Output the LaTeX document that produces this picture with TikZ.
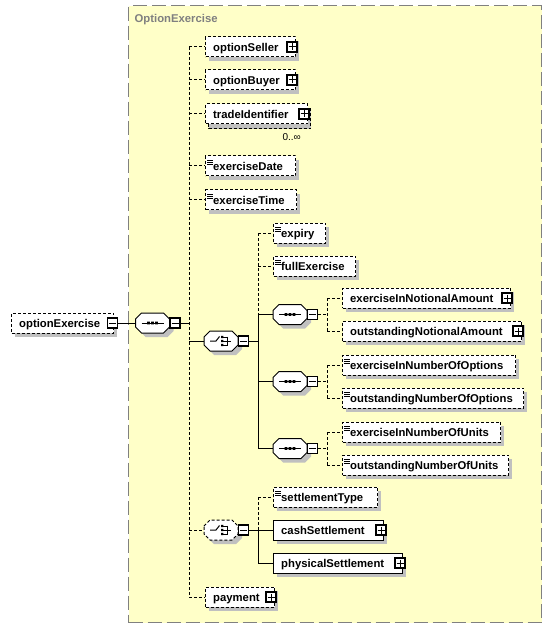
\documentclass[tikz,border=0pt]{standalone}
\usepackage{fontspec}
\setmainfont{Liberation Sans}
\definecolor{bgyel}{HTML}{FFFFC8}
\definecolor{shd}{HTML}{C0C0C0}
\definecolor{frm}{HTML}{808080}
\tikzset{
 dsh/.style={dash pattern=on 3pt off 2pt},
 conn/.style={line width=1pt},
 boxel/.style={draw, fill=white, line width=1pt, minimum height=20pt, inner sep=0pt, anchor=west},
 eltext/.style={font=\fontsize{11.3}{13}\selectfont\bfseries, inner sep=0pt, anchor=base west},
 pm/.style={draw, fill=white, line width=1.1pt, minimum size=10pt, inner sep=0pt},
 compo/.style={minimum width=34pt, minimum height=20pt, inner sep=0pt},
 grpbox/.style={draw=frm, fill=bgyel, line width=1.4pt, dash pattern=on 14pt off 5pt, inner sep=0pt},
 ttl/.style={text=frm, font=\fontsize{11.3}{13}\selectfont\bfseries, inner sep=0pt, anchor=base west},
 occ/.style={font=\fontsize{10}{11}\selectfont, inner sep=0pt, anchor=base east},
}
\newcommand\elbox[6]{%
 \fill[shd] (#2+4,#4-6) rectangle (#3+4,#4+14);
 \node[boxel,#5,minimum width=#3-#2] (#1) at (#2,#4) {};
 \node[eltext] (#1t) at (#2+8,#4+4.5) {#6};}
\newcommand\elicon[2]{%
 \draw[line width=0.8pt] (#1+2,#2-6) -- (#1+7.5,#2-6) (#1+2,#2-4) -- (#1+7.5,#2-4) (#1+2,#2-2) -- (#1+7.5,#2-2);}
\newcommand\plusbox[3]{\node[pm] (#1) at (#2,#3) {};
 \draw[line width=1pt] (#1.center) ++(-3.5,0) -- ++(7,0) (#1.center) ++(0,-3.5) -- ++(0,7);}
\newcommand\minusbox[3]{\node[pm] (#1) at (#2,#3) {};
 \draw[line width=1pt] (#1.center) ++(-3.5,0) -- ++(7,0);}
\newcommand\octo[4]{%
 \fill[shd] (#2-13,#3) -- (#2-7,#3-6) -- (#2+15,#3-6) -- (#2+21,#3) -- (#2+21,#3+8) -- (#2+15,#3+14) -- (#2-7,#3+14) -- (#2-13,#3+8) -- cycle;
 \draw[fill=white,line width=1pt,#4] (#2-17,#3-4) -- (#2-11,#3-10) -- (#2+11,#3-10) -- (#2+17,#3-4) -- (#2+17,#3+4) -- (#2+11,#3+10) -- (#2-11,#3+10) -- (#2-17,#3+4) -- cycle;
 \node[compo] (#1) at (#2,#3) {};
 \minusbox{#1m}{#2+22.5}{#3}}
\newcommand\seqicon[2]{%
 \draw[line width=1pt] (#1-11,#2) -- (#1+11,#2);
 \fill (#1-5.3,#2-1.3) rectangle ++(2.6,2.6) (#1-1.3,#2-1.3) rectangle ++(2.6,2.6) (#1+2.7,#2-1.3) rectangle ++(2.6,2.6);}
\newcommand\choiceicon[2]{%
 \draw[line width=1pt] (#1-11,#2) -- (#1-5,#2) -- (#1-1.5,#2-4.5);
 \fill (#1,#2-5.2) rectangle ++(2.4,2.4) (#1,#2-1.2) rectangle ++(2.4,2.4) (#1,#2+2.8) rectangle ++(2.4,2.4);
 \draw[line width=0.9pt] (#1+2.4,#2-4) -- (#1+6,#2-4) (#1+2.4,#2) -- (#1+10,#2) (#1+2.4,#2+4) -- (#1+6,#2+4) (#1+6,#2-4.5) -- (#1+6,#2+4.5);}
\begin{document}
\begin{tikzpicture}[x=1pt,y=-1pt]
\useasboundingbox[fill=white] (0,0) rectangle (551,628);
\node[grpbox, anchor=north west, minimum width=413pt, minimum height=617pt] (grp) at (128,5) {};
\node[ttl] (title) at (134.5,23) {OptionExercise};

% root element
\elbox{oe}{11}{113}{323}{dsh}{optionExercise}
\minusbox{oem}{112.5}{323}
\octo{sq0}{152.5}{323}{}
\seqicon{152.5}{323}

% children of main sequence
\elbox{seller}{205}{295}{47}{dsh}{optionSeller}
\plusbox{sellerp}{292}{47}
\elbox{buyer}{205}{295}{80}{dsh}{optionBuyer}
\plusbox{buyerp}{292}{80}
\draw[fill=shd,line width=1pt,dsh] (208.5,109) rectangle (310.5,129);
\node[boxel,dsh,minimum width=102] (trade) at (205,114) {};
\node[eltext] (tradet) at (213,118.5) {tradeIdentifier};
\plusbox{tradep}{304}{114}
\node[occ] (tradeocc) at (301,141) {0..∞};
\elbox{exdate}{205}{295}{166}{dsh}{exerciseDate}
\elicon{205}{166}
\elbox{extime}{205}{296}{200}{dsh}{exerciseTime}
\elicon{205}{200}
\octo{ch1}{221}{341}{}
\choiceicon{221}{341}
\octo{ch2}{221}{530}{dsh}
\choiceicon{221}{530}
\elbox{payment}{205}{274}{597}{dsh}{payment}
\plusbox{paymentp}{271}{597}

% children of first choice
\elbox{expiry}{273}{325}{233}{dsh}{expiry}
\elicon{273}{233}
\elbox{fullex}{273}{355}{266}{dsh}{fullExercise}
\elicon{273}{266}
\octo{sq1}{290}{314.5}{}
\seqicon{290}{314.5}
\octo{sq2}{290}{381.5}{}
\seqicon{290}{381.5}
\octo{sq3}{290}{448.5}{}
\seqicon{290}{448.5}

\elbox{eina}{342}{510}{298}{dsh}{exerciseInNotionalAmount}
\plusbox{einap}{507}{298}
\elbox{ona}{342}{521}{331}{dsh}{outstandingNotionalAmount}
\plusbox{onap}{518}{331}
\elbox{einoo}{342}{515}{365}{dsh}{exerciseInNumberOfOptions}
\elicon{342}{365}
\elbox{onoo}{342}{523}{398}{dsh}{outstandingNumberOfOptions}
\elicon{342}{398}
\elbox{einou}{342}{500}{432}{dsh}{exerciseInNumberOfUnits}
\elicon{342}{432}
\elbox{onou}{342}{508}{465}{dsh}{outstandingNumberOfUnits}
\elicon{342}{465}

% children of second choice
\elbox{stype}{273}{377}{497}{dsh}{settlementType}
\elicon{273}{497}
\elbox{cash}{273}{383}{530}{}{cashSettlement}
\plusbox{cashp}{381}{530}
\elbox{phys}{273}{402}{563}{}{physicalSettlement}
\plusbox{physp}{400}{563}

% connectors
\draw[conn] (oem.east) -- (sq0.west);
\coordinate (b0) at (189,323);
\draw[conn] (sq0m.east) -- (b0);
\draw[conn,dsh] (b0 |- seller.west) -- (b0 |- payment.west);
\foreach \n in {seller,buyer,trade,exdate,extime,ch2,payment}
  \draw[conn,dsh] (b0 |- \n.west) -- (\n.west);
\draw[conn] (b0 |- ch1.west) -- (ch1.west);

\coordinate (b1) at (258,341);
\draw[conn] (ch1m.east) -- (b1);
\draw[conn,dsh] (b1 |- expiry.west) -- (b1 |- sq1.west);
\draw[conn] (b1 |- sq1.west) -- (b1 |- sq3.west);
\foreach \n in {expiry,fullex}
  \draw[conn,dsh] (b1 |- \n.west) -- (\n.west);
\foreach \n in {sq1,sq2,sq3}
  \draw[conn] (b1 |- \n.west) -- (\n.west);

\coordinate (b2) at (327,314.5);
\draw[conn,dsh] (sq1m.east) -- (b2);
\draw[conn,dsh] (b2 |- eina.west) -- (b2 |- ona.west);
\draw[conn,dsh] (b2 |- eina.west) -- (eina.west);
\draw[conn,dsh] (b2 |- ona.west) -- (ona.west);

\coordinate (b3) at (327,381.5);
\draw[conn,dsh] (sq2m.east) -- (b3);
\draw[conn,dsh] (b3 |- einoo.west) -- (b3 |- onoo.west);
\draw[conn,dsh] (b3 |- einoo.west) -- (einoo.west);
\draw[conn,dsh] (b3 |- onoo.west) -- (onoo.west);

\coordinate (b4) at (327,448.5);
\draw[conn,dsh] (sq3m.east) -- (b4);
\draw[conn,dsh] (b4 |- einou.west) -- (b4 |- onou.west);
\draw[conn,dsh] (b4 |- einou.west) -- (einou.west);
\draw[conn,dsh] (b4 |- onou.west) -- (onou.west);

\coordinate (b5) at (258,530);
\draw[conn] (ch2m.east) -- (b5);
\draw[conn,dsh] (b5 |- stype.west) -- (b5);
\draw[conn] (b5) -- (b5 |- phys.west);
\draw[conn,dsh] (b5 |- stype.west) -- (stype.west);
\draw[conn] (b5 |- cash.west) -- (cash.west);
\draw[conn] (b5 |- phys.west) -- (phys.west);
\end{tikzpicture}
\end{document}
